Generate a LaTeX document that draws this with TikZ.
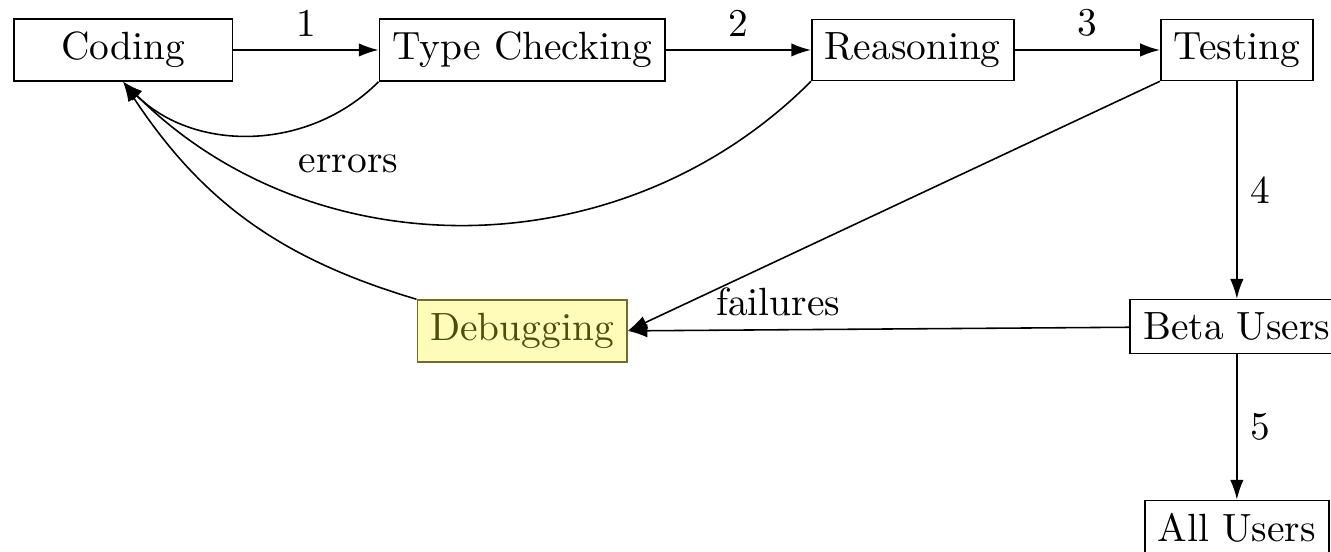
\documentclass[tikz,border=0pt]{standalone}
\usepackage{xcolor}
\usetikzlibrary{arrows.meta,positioning}

\definecolor{debugtext}{RGB}{78,78,8}
\definecolor{debugline}{RGB}{110,110,40}

\begin{document}
\begin{tikzpicture}[
  node distance=55.2pt and 36.9pt,
  phase/.style={draw, inner sep=3.33pt},
  hilite/.style={phase, draw=debugline, fill=yellow!28, text=debugtext},
  arrow/.style={-{Latex[length=5pt,width=3.4pt]}},
]
\node[phase, minimum width=55.5pt] (coding) {Coding};
\node[phase, right=of coding] (typecheck) {Type Checking};
\node[phase, right=of typecheck] (reasoning) {Reasoning};
\node[phase, right=of reasoning] (testing) {Testing};
\node[phase, below=of testing] (beta) {Beta Users};
\node[phase, below=36.9pt of beta] (all) {All Users};
\node[hilite, below=of typecheck] (debug) {Debugging};
\draw[arrow] (coding) -- node[above] {1} (typecheck);
\draw[arrow] (typecheck) -- node[above] {2} (reasoning);
\draw[arrow] (reasoning) -- node[above] {3} (testing);
\draw[arrow] (testing) -- node[right] {4} (beta);
\draw[arrow] (beta) -- node[right] {5} (all);
\draw[arrow] (beta) -- node[above, pos=0.7] {failures} (debug.east);
\draw[arrow] (testing.south west) -- (debug.east);
\draw[arrow] (typecheck.south west) to[bend left=45] (coding.south);
\draw[arrow] (reasoning.south west) to[bend left=45]
  node[pos=0.66, above=5.6pt] {errors} (coding.south);
\draw[arrow] (debug.north west) to[bend left=20] (coding.south);
% crop like the original
\pgfresetboundingbox
\path (coding.north west) ++(-3.3pt,4.6pt) coordinate (bbtl);
\path (beta.center |- all.north) ++(23.9pt,-13.2pt) coordinate (bbbr);
\useasboundingbox (bbtl) rectangle (bbbr);
\end{tikzpicture}
\end{document}
